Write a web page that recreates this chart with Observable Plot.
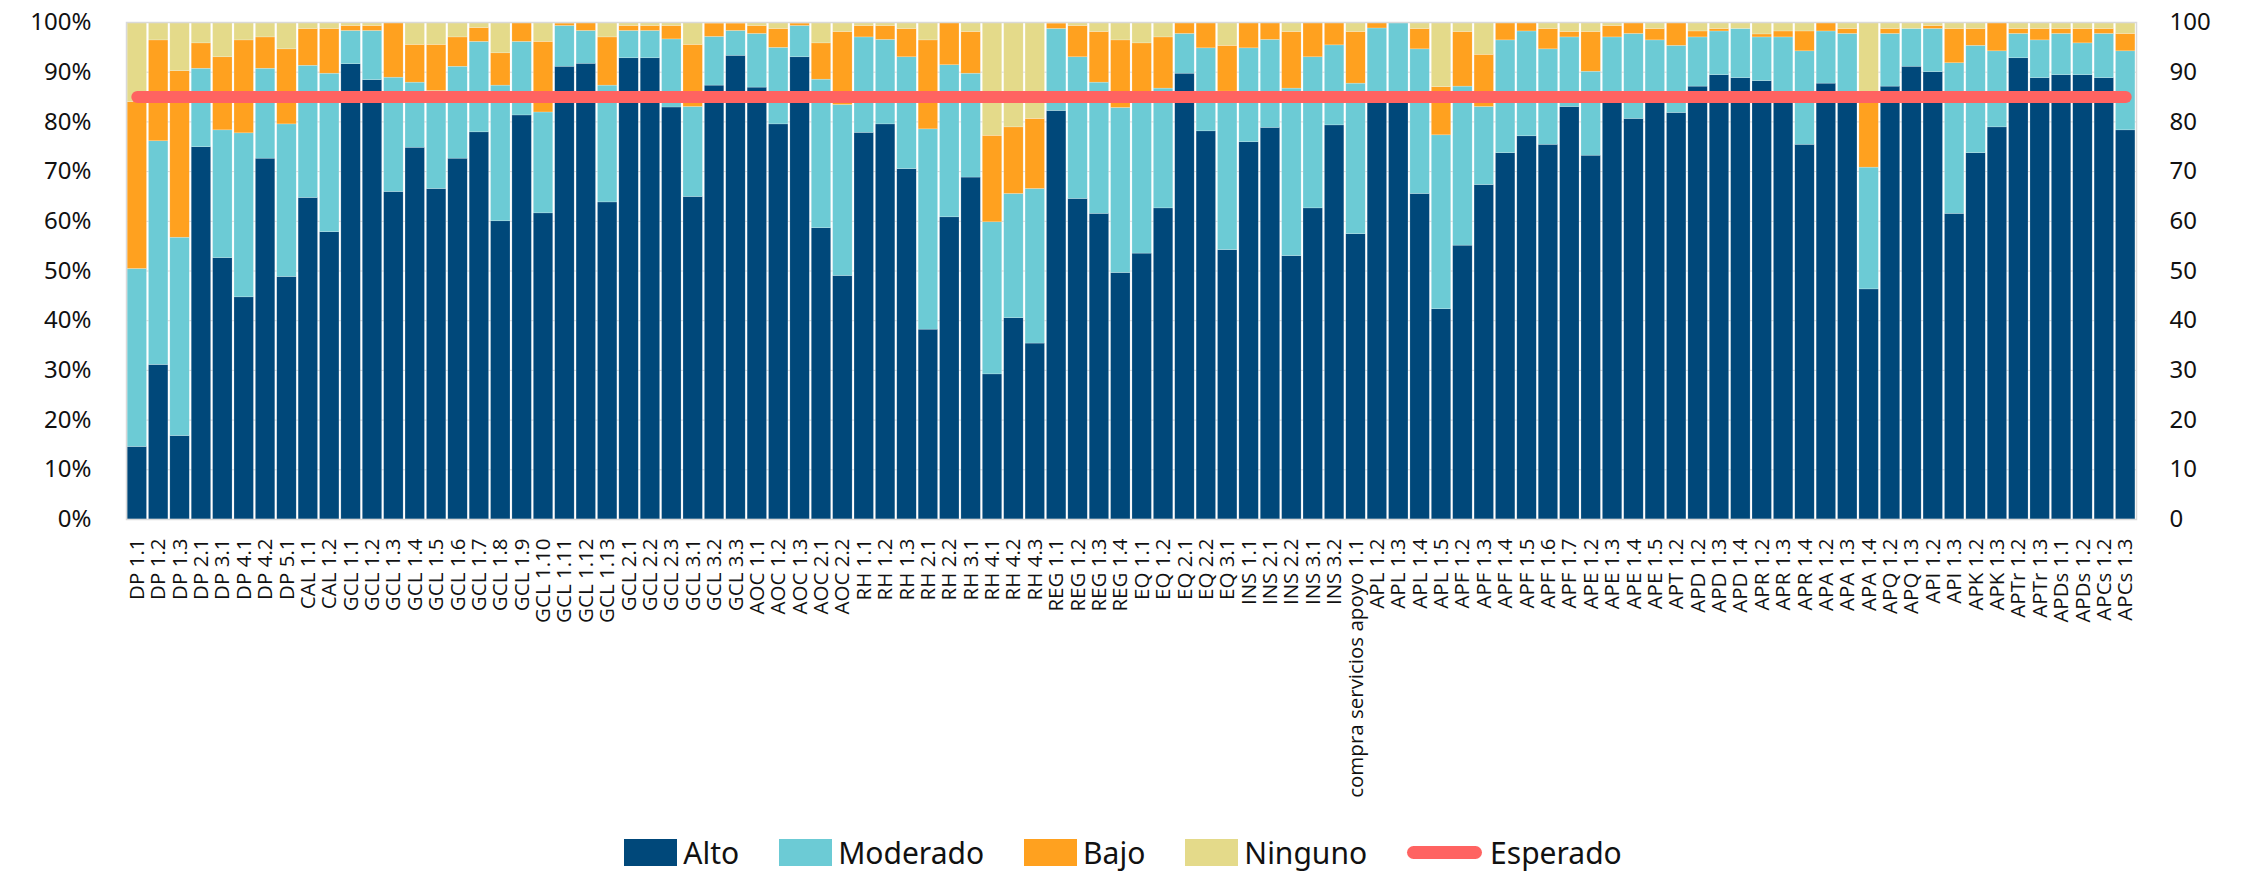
<!DOCTYPE html>
<html>
<head>
<meta charset="utf-8">
<script src="https://cdn.jsdelivr.net/npm/d3@7"></script>
<script src="https://cdn.jsdelivr.net/npm/@observablehq/plot@0.6"></script>
<style>
  html, body { margin: 0; padding: 0; background: #fff; overflow: hidden; }
  #wrap { position: relative; width: 2246px; height: 876px; }
  #legend { position: absolute; left: 0; top: 832px; width: 2246px; height: 40px;
    display: flex; justify-content: center; align-items: center;
    font-family: "Noto Sans", sans-serif; font-size: 30px; color: #111; }
  .item { display: flex; align-items: center; margin: 0 20px; }
  .sw { width: 53px; height: 27px; margin-right: 6px; }
  .ln { width: 75px; height: 13px; border-radius: 7px; margin-right: 8px; }
</style>
</head>
<body>
<div id="wrap"><div id="chart"></div><div id="legend"></div></div>
<script>
const categories = ["DP 1.1","DP 1.2","DP 1.3","DP 2.1","DP 3.1","DP 4.1","DP 4.2","DP 5.1","CAL 1.1","CAL 1.2","GCL 1.1","GCL 1.2","GCL 1.3","GCL 1.4","GCL 1.5","GCL 1.6","GCL 1.7","GCL 1.8","GCL 1.9","GCL 1.10","GCL 1.11","GCL 1.12","GCL 1.13","GCL 2.1","GCL 2.2","GCL 2.3","GCL 3.1","GCL 3.2","GCL 3.3","AOC 1.1","AOC 1.2","AOC 1.3","AOC 2.1","AOC 2.2","RH 1.1","RH 1.2","RH 1.3","RH 2.1","RH 2.2","RH 3.1","RH 4.1","RH 4.2","RH 4.3","REG 1.1","REG 1.2","REG 1.3","REG 1.4","EQ 1.1","EQ 1.2","EQ 2.1","EQ 2.2","EQ 3.1","INS 1.1","INS 2.1","INS 2.2","INS 3.1","INS 3.2","compra servicios apoyo 1.1","APL 1.2","APL 1.3","APL 1.4","APL 1.5","APF 1.2","APF 1.3","APF 1.4","APF 1.5","APF 1.6","APF 1.7","APE 1.2","APE 1.3","APE 1.4","APE 1.5","APT 1.2","APD 1.2","APD 1.3","APD 1.4","APR 1.2","APR 1.3","APR 1.4","APA 1.2","APA 1.3","APA 1.4","APQ 1.2","APQ 1.3","API 1.2","API 1.3","APK 1.2","APK 1.3","APTr 1.2","APTr 1.3","APDs 1.1","APDs 1.2","APCs 1.2","APCs 1.3"];

const alto = [14.6,31.1,16.8,74.9,52.6,44.7,72.6,48.8,64.7,57.8,91.6,88.4,65.9,74.8,66.5,72.6,77.9,60.0,81.3,61.6,91.1,91.7,63.8,92.8,92.8,82.9,64.9,87.3,93.3,86.9,79.5,93.0,58.6,49.0,77.8,79.5,70.5,38.2,60.8,68.8,29.2,40.5,35.4,82.2,64.5,61.5,49.6,53.5,62.6,89.7,78.1,54.2,75.9,78.8,53.0,62.6,79.3,57.4,84.0,84.0,65.5,42.3,55.1,67.3,73.7,77.1,75.4,83.0,73.2,84.0,80.6,84.0,81.8,87.1,89.4,88.8,88.2,84.0,75.4,87.7,84.0,46.3,87.1,91.1,90.0,61.5,73.7,78.9,92.8,88.8,89.4,89.4,88.8,78.3];

const moderado = [35.8,45.0,39.9,15.8,25.7,33.0,18.1,30.7,26.6,31.9,6.7,9.9,23.0,13.1,19.7,18.5,18.2,27.3,14.8,20.3,8.2,6.6,23.5,5.5,5.5,13.7,18.1,9.8,5.0,10.8,15.4,6.3,29.9,34.4,19.2,17.0,22.5,40.3,30.6,20.9,30.6,25.0,31.1,16.5,28.5,26.4,33.2,32.0,24.1,8.0,16.7,31.9,18.9,17.7,33.7,30.4,16.1,30.3,14.8,16.0,29.1,35.0,32.0,15.7,22.7,21.1,19.2,14.0,16.9,13.0,17.1,12.4,13.5,9.9,8.8,9.9,8.8,13.0,18.8,10.5,13.7,24.5,10.6,7.6,8.7,30.3,21.6,15.3,4.9,7.6,8.3,6.4,8.9,15.9];

const bajo = [33.6,20.3,33.5,5.1,14.7,18.7,6.3,15.1,7.4,9.0,1.0,1.0,11.1,7.6,9.3,5.9,2.8,6.5,3.9,14.2,0.5,1.7,9.7,1.0,1.0,2.7,12.5,2.7,1.5,1.6,3.8,0.5,7.3,14.7,2.3,2.8,5.7,17.9,8.6,8.4,17.4,13.4,14.1,1.1,6.3,10.2,13.6,10.3,10.3,2.3,5.2,9.2,5.2,3.5,11.4,7.0,4.6,10.4,1.2,0,4.1,9.7,11.0,10.5,3.6,1.8,4.1,1.1,8.0,2.3,2.3,2.3,4.7,1.2,0.5,0,0.6,1.2,4.0,1.8,1.0,14.7,1.0,0,0.6,6.9,3.4,5.8,1.0,2.3,1.0,2.9,1.0,3.5];

const ninguno = [16.0,3.6,9.8,4.2,7.0,3.6,3.0,5.4,1.3,1.3,0.7,0.7,0,4.5,4.5,3.0,1.1,6.2,0,3.9,0.2,0,3.0,0.7,0.7,0.7,4.5,0.2,0.2,0.7,1.3,0.2,4.2,1.9,0.7,0.7,1.3,3.6,0,1.9,22.8,21.1,19.4,0.2,0.7,1.9,3.6,4.2,3.0,0,0,4.7,0,0,1.9,0,0,1.9,0,0,1.3,13.0,1.9,6.5,0,0,1.3,1.9,1.9,0.7,0,1.3,0,1.8,1.3,1.3,2.4,1.8,1.8,0,1.3,14.5,1.3,1.3,0.7,1.3,1.3,0,1.3,1.3,1.3,1.3,1.3,2.3];

const esperado = 85;
const series = ["Alto","Moderado","Bajo","Ninguno"];
const seriesColors = ["#00487a","#6ccbd5","#ffa11f","#e4da8a"];
const esperadoColor = "#ff6361";
const yTicks = [0,10,20,30,40,50,60,70,80,90,100];

const valuesBySeries = [alto, moderado, bajo, ninguno];
const table = [];
categories.forEach((c, i) => {
  series.forEach((s, k) => table.push({categoria: c, nivel: s, valor: valuesBySeries[k][i]}));
});
const expectedRows = categories.map(c => ({categoria: c, valor: esperado}));

const chart = Plot.plot({
  width: 2246,
  height: 816,
  marginTop: 22,
  marginBottom: 297,
  marginLeft: 126,
  marginRight: 110,
  style: {background: "#fff", color: "#111"},
  x: {domain: categories, paddingInner: 0.09, paddingOuter: 0.05, label: null},
  y: {domain: [0, 100], label: null},
  color: {domain: series, range: seriesColors},
  marks: [
    Plot.gridY(yTicks, {stroke: "#d9d9d9", strokeOpacity: 1}),
    Plot.barY(table, {x: "categoria", y: "valor", fill: "nivel", order: series,
      stroke: "#ffffff", strokeWidth: 0.5, strokeOpacity: 0.4}),
    Plot.frame({stroke: "#d9d9d9", strokeWidth: 1.5}),
    Plot.lineY(expectedRows, {x: "categoria", y: "valor", stroke: esperadoColor,
      strokeWidth: 12, strokeLinecap: "round"}),
    Plot.axisX({tickRotate: -90, tickSize: 0, tickPadding: 19, fontSize: 20.5,
      fontFamily: "Open Sans", label: null}),
    Plot.axisY(yTicks, {anchor: "left", tickFormat: d => d + "%", tickSize: 0,
      tickPadding: 35, fontSize: 24, fontFamily: "Noto Sans", label: null}),
    Plot.axisY(yTicks, {anchor: "right", tickFormat: d => String(d), tickSize: 0,
      tickPadding: 33, fontSize: 24, fontFamily: "Noto Sans", label: null})
  ]
});
document.getElementById("chart").appendChild(chart);

const legend = document.getElementById("legend");
series.forEach((s, k) => {
  const it = document.createElement("div");
  it.className = "item";
  it.innerHTML = `<div class="sw" style="background:${seriesColors[k]}"></div><span>${s}</span>`;
  legend.appendChild(it);
});
const it = document.createElement("div");
it.className = "item";
it.innerHTML = `<div class="ln" style="background:${esperadoColor}"></div><span>Esperado</span>`;
legend.appendChild(it);
</script>
</body>
</html>
